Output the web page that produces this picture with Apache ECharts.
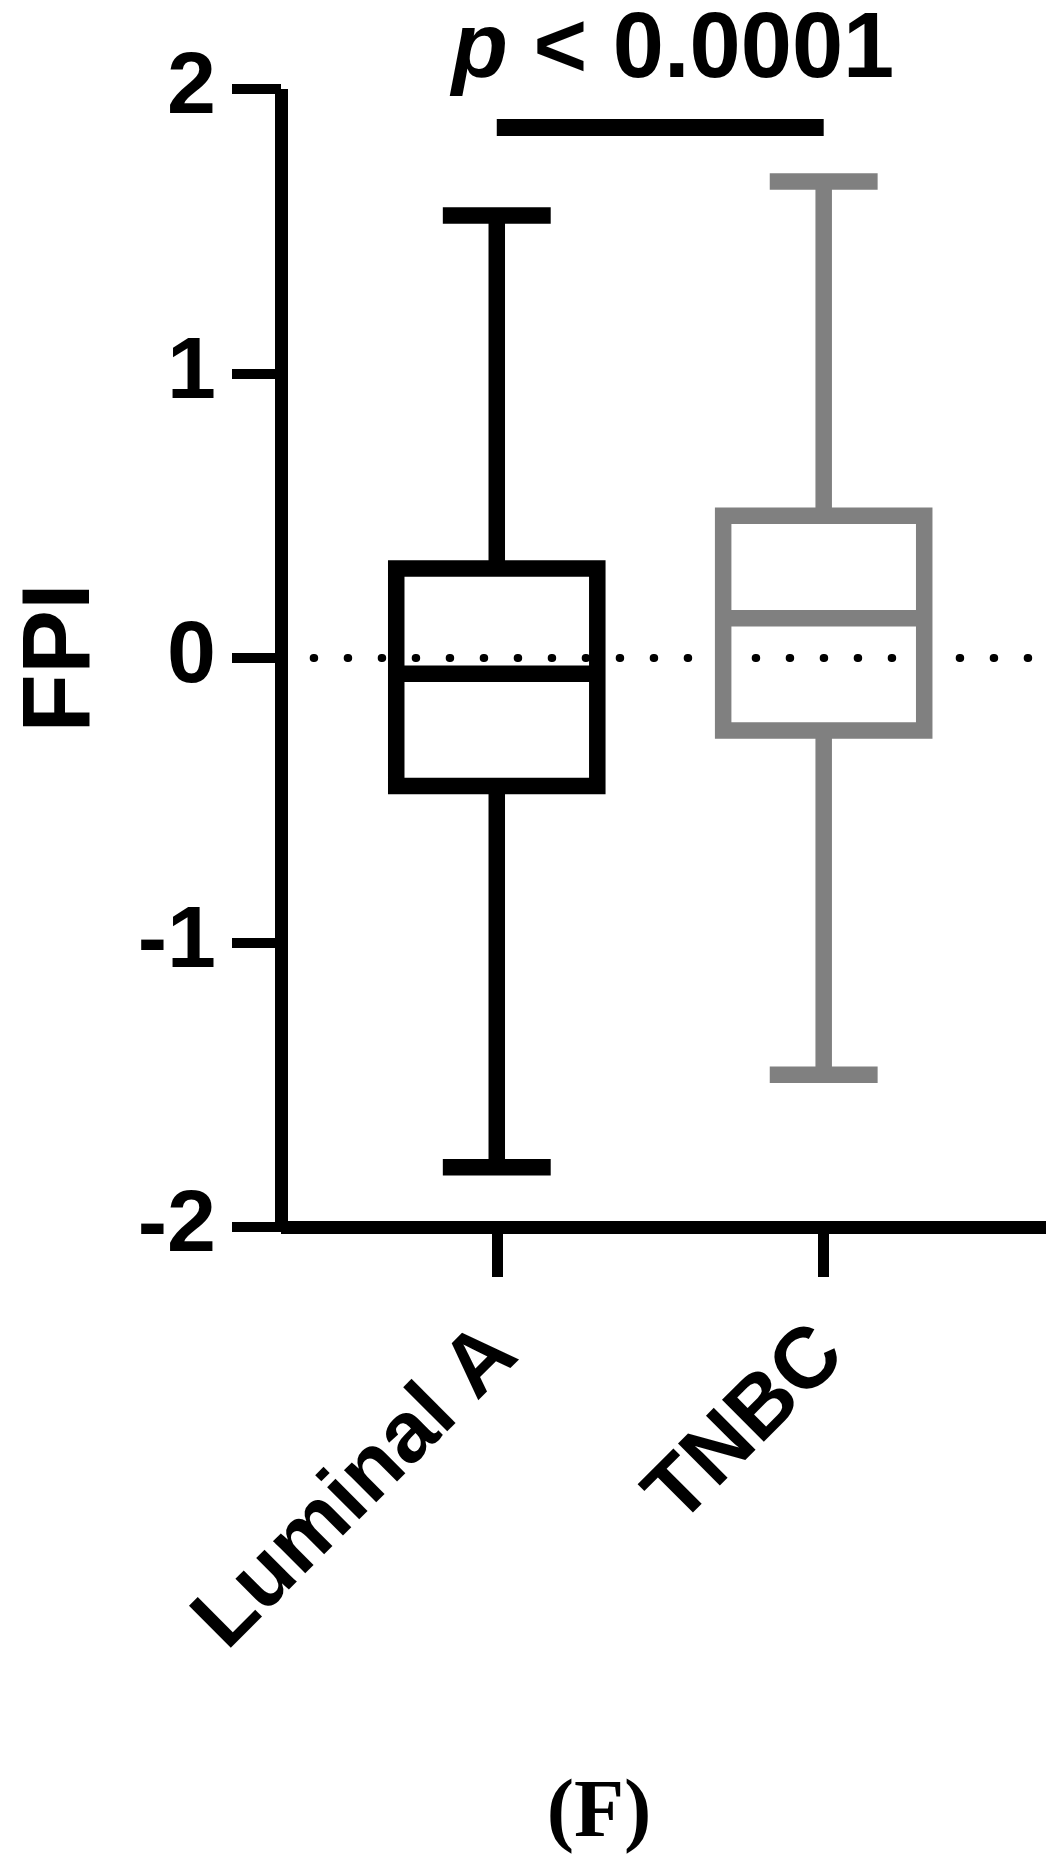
<!DOCTYPE html>
<html>
<head>
<meta charset="utf-8">
<title>FPI</title>
<script src="https://cdn.jsdelivr.net/npm/echarts@6/dist/echarts.min.js"></script>
<style>
  html, body { margin: 0; padding: 0; background: #fff; }
  #main { width: 1059px; height: 1871px; }
</style>
</head>
<body>
<div id="main"></div>
<script>
// groups, placed at x = 1 and x = 2 on the x axis
var categories = ['Luminal A', 'TNBC'];
var groupPos = [1, 2];
// box & whisker values
var whiskerLow = [-1.79, -1.465];
var q1 = [-0.45, -0.255];
var median = [-0.055, 0.14];
var q3 = [0.315, 0.5];
var whiskerHigh = [1.555, 1.675];
var boxColors = ['#000000', '#808080'];
// y axis
var yMin = -2, yMax = 2, yStep = 1;
// significance bar
var sigBarY = 1.865;
var sigText = 'p < 0.0001';
// dotted zero line
var zeroLineX = [0.44, 2.65];
var zeroLineY = 0;

var FONT = '"Liberation Sans", Arial, sans-serif';

var boxData = categories.map(function (c, i) {
  return [groupPos[i], whiskerLow[i], q1[i], median[i], q3[i], whiskerHigh[i]];
});

function renderBox(params, api) {
  var x = api.value(0);
  var color = boxColors[params.dataIndex];
  var halfBox = api.size([0.615, 0])[0] / 2;
  var halfCap = api.size([0.33, 0])[0] / 2;
  var pLo = api.coord([x, api.value(1)]);
  var pQ1 = api.coord([x, api.value(2)]);
  var pMed = api.coord([x, api.value(3)]);
  var pQ3 = api.coord([x, api.value(4)]);
  var pHi = api.coord([x, api.value(5)]);
  var st = { stroke: color, lineWidth: 16.5, fill: 'none' };
  return {
    type: 'group',
    children: [
      { type: 'line', shape: { x1: pHi[0], y1: pHi[1], x2: pQ3[0], y2: pQ3[1] }, style: st },
      { type: 'line', shape: { x1: pQ1[0], y1: pQ1[1], x2: pLo[0], y2: pLo[1] }, style: st },
      { type: 'line', shape: { x1: pHi[0] - halfCap, y1: pHi[1], x2: pHi[0] + halfCap, y2: pHi[1] }, style: st },
      { type: 'line', shape: { x1: pLo[0] - halfCap, y1: pLo[1], x2: pLo[0] + halfCap, y2: pLo[1] }, style: st },
      { type: 'rect', shape: { x: pQ3[0] - halfBox, y: pQ3[1], width: 2 * halfBox, height: pQ1[1] - pQ3[1] }, style: st },
      { type: 'line', shape: { x1: pMed[0] - halfBox, y1: pMed[1], x2: pMed[0] + halfBox, y2: pMed[1] }, style: st }
    ]
  };
}

var chart = echarts.init(document.getElementById('main'));
chart.setOption({
  backgroundColor: '#fff',
  animation: false,
  grid: { left: 281, right: 13, top: 89, bottom: 644, containLabel: false, outerBoundsMode: 'none' },
  xAxis: {
    type: 'value',
    min: 0.34,
    max: 2.68,
    axisLine: { onZero: false, lineStyle: { color: '#000', width: 13, cap: 'butt' } },
    axisTick: { customValues: groupPos, length: 50, lineStyle: { color: '#000', width: 11 } },
    axisLabel: {
      customValues: groupPos,
      formatter: function (v) { return categories[groupPos.indexOf(v)]; },
      rotate: 45,
      margin: 107,
      verticalAlign: 'top',
      lineHeight: 20,
      color: '#000',
      fontSize: 86,
      fontWeight: 'bold',
      fontFamily: FONT
    },
    splitLine: { show: false }
  },
  yAxis: {
    type: 'value',
    min: yMin,
    max: yMax,
    interval: yStep,
    name: 'FPI',
    nameLocation: 'middle',
    nameGap: 170,
    nameTextStyle: { color: '#000', fontSize: 96, fontWeight: 'bold', fontFamily: FONT },
    axisLine: { show: true, onZero: false, lineStyle: { color: '#000', width: 13, cap: 'butt' } },
    axisTick: { show: true, length: 49, lineStyle: { color: '#000', width: 10 } },
    axisLabel: { margin: 65, color: '#000', fontSize: 88, fontWeight: 'bold', fontFamily: FONT },
    splitLine: { show: false }
  },
  graphic: [
    {
      type: 'text',
      x: 673,
      y: 52,
      style: {
        text: '{pi|' + sigText.slice(0, 1) + '}' + sigText.slice(1),
        align: 'center',
        verticalAlign: 'middle',
        fill: '#000',
        fontSize: 92,
        fontWeight: 'bold',
        fontFamily: FONT,
        rich: {
          pi: { fontStyle: 'italic', fontWeight: 'bold', fontSize: 92, fontFamily: FONT, fill: '#000' }
        }
      }
    },
    {
      type: 'text',
      x: 599,
      y: 1815,
      style: {
        text: '(F)',
        align: 'center',
        verticalAlign: 'middle',
        fill: '#000',
        fontSize: 82,
        fontWeight: 'bold',
        fontFamily: '"Liberation Serif", "Times New Roman", serif'
      }
    }
  ],
  series: [
    {
      type: 'line',
      z: 1,
      silent: true,
      symbol: 'none',
      data: [[zeroLineX[0], zeroLineY], [zeroLineX[1], zeroLineY]],
      lineStyle: { color: '#000', width: 8, type: [0.5, 33.5], cap: 'round' }
    },
    {
      type: 'custom',
      z: 3,
      silent: true,
      renderItem: renderBox,
      data: boxData
    },
    {
      type: 'line',
      z: 3,
      silent: true,
      symbol: 'none',
      data: [[groupPos[0], sigBarY], [groupPos[1], sigBarY]],
      lineStyle: { color: '#000', width: 17, cap: 'butt' }
    }
  ]
});
</script>
</body>
</html>
